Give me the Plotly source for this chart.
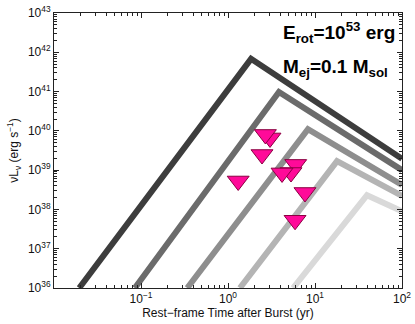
import plotly.graph_objects as go

# model curves: (time in yr, nuL_nu in erg/s)
curve_t = [
    [0.0195, 1.84, 100.0],
    [0.085, 3.85, 100.0],
    [0.34, 8.3, 100.0],
    [1.37, 17.9, 100.0],
    [5.6, 39.6, 100.0],
]
curve_l = [
    [1e36, 6.8e41, 1.95e39],
    [1e36, 9.8e40, 1.0e39],
    [1e36, 1.1e40, 4.2e38],
    [1e36, 1.7e39, 2.2e38],
    [1e36, 2.3e38, 9.0e37],
]
curve_colors = ["#3d3d3d", "#6b6b6b", "#8e8e8e", "#b4b4b4", "#d9d9d9"]

# upper limits (downward triangles)
lim_t = [3.04, 2.69, 2.46, 1.31, 6.0, 5.3, 4.18, 7.67, 5.9]
lim_l = [6.6e39, 8.1e39, 2.5e39, 5.3e38, 1.4e39, 8.7e38, 8.5e38, 2.7e38, 5.3e37]

x_decades = [-2, -1, 0, 1]
y_decades = list(range(36, 43))
x_tickvals = [0.1, 1, 10, 100]
x_ticktext = ["10<sup>\u22121</sup>", "10<sup>0</sup>", "10<sup>1</sup>", "10<sup>2</sup>"]
y_tickvals = [10.0 ** p for p in range(36, 44)]
y_ticktext = ["10<sup>%d</sup>" % p for p in range(36, 44)]

x_minor = [m * 10.0 ** d for d in x_decades for m in range(2, 10)]
y_minor = [m * 10.0 ** d for d in y_decades for m in range(2, 10)]

font = "Liberation Sans, Arial, sans-serif"

fig = go.Figure()

for t, l, c in zip(curve_t, curve_l, curve_colors):
    fig.add_trace(go.Scatter(
        x=t, y=l, mode="lines",
        line=dict(color=c, width=6),
        hoverinfo="skip",
    ))

fig.add_trace(go.Scatter(
    x=lim_t, y=lim_l, mode="markers",
    marker=dict(symbol="triangle-down", size=19, color="#ff0a99",
                line=dict(color="#8a0040", width=1)),
))

axis_common = dict(
    type="log",
    showgrid=False,
    zeroline=False,
    showline=True,
    linecolor="#222",
    linewidth=1,
    mirror="allticks",
    ticks="inside",
    ticklen=5,
    tickcolor="#222",
    tickfont=dict(family=font, size=12, color="#111"),
)

fig.update_xaxes(
    range=[-2, 2],
    tickvals=x_tickvals, ticktext=x_ticktext,
    minor=dict(ticks="inside", ticklen=3, tickcolor="#222", showgrid=False,
               tickvals=x_minor),
    title=dict(text="Rest\u2212frame Time after Burst (yr)",
               font=dict(family=font, size=12, color="#111"), standoff=2),
    **axis_common,
)
fig.update_yaxes(
    range=[36, 43],
    tickvals=y_tickvals, ticktext=y_ticktext,
    minor=dict(ticks="inside", ticklen=3, tickcolor="#222", showgrid=False,
               tickvals=y_minor),
    title=dict(text="\u03bdL<sub>\u03bd</sub> (erg s<sup>\u22121</sup>)",
               font=dict(family=font, size=12, color="#111"), standoff=6),
    **axis_common,
)

fig.add_annotation(
    text="<b>E<sub>rot</sub>=10<sup>53</sup> erg</b>",
    xref="paper", yref="paper", x=0.985, y=0.93,
    xanchor="right", yanchor="middle", showarrow=False,
    font=dict(family=font, size=19, color="black"),
)
fig.add_annotation(
    text="<b>M<sub>ej</sub>=0.1 M<sub>sol</sub></b>",
    xref="paper", yref="paper", x=0.965, y=0.80,
    xanchor="right", yanchor="middle", showarrow=False,
    font=dict(family=font, size=19, color="black"),
)

fig.update_layout(
    width=415, height=324,
    margin=dict(l=54, r=13, t=13, b=36, autoexpand=False),
    plot_bgcolor="white",
    paper_bgcolor="white",
    showlegend=False,
)

fig.write_html(
    "out.html",
    config={"displayModeBar": False},
    post_script="document.body.style.margin='0';document.body.style.overflow='hidden';",
)
